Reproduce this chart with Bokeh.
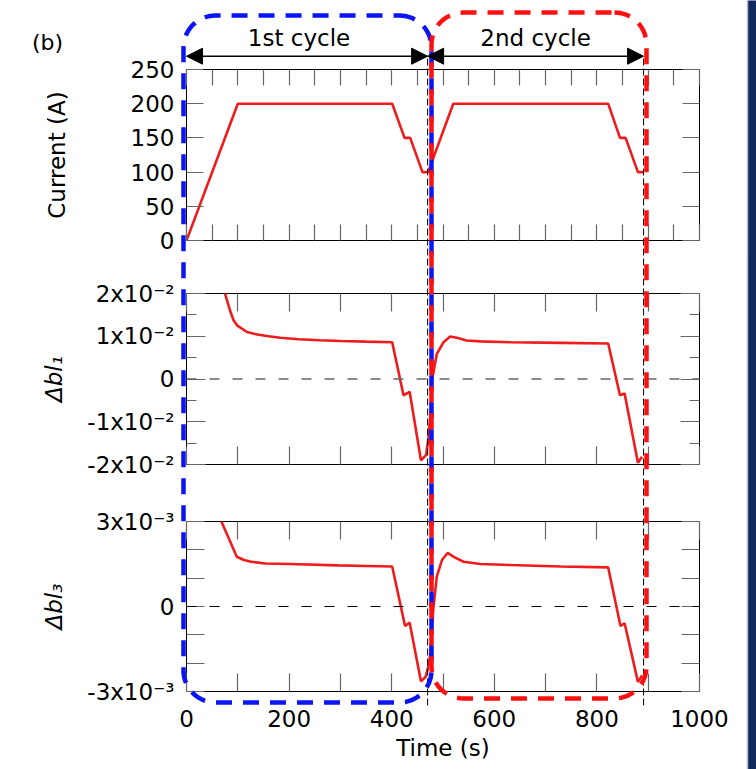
import math
from bokeh.plotting import figure
from bokeh.layouts import column
from bokeh.core.properties import value
from bokeh.models import (Range1d, LinearAxis, FixedTicker, Span, Arrow, NormalHead,
                          CustomJSTickFormatter)
from bokeh.embed import file_html
from bokeh.resources import INLINE

# ---------------- data ----------------
time_current = [0, 100, 401, 425, 436, 460, 471, 520, 822, 845, 856, 880, 891]
current = [0, 200, 200, 150, 150, 100, 100, 200, 200, 150, 150, 100, 100]

time_bl1 = [60, 75, 86, 92, 99, 118, 138, 160, 183, 219, 260, 300, 350, 401,
            423, 435, 457, 467, 472, 475.6, 478.6, 488, 501, 514, 527, 546, 573, 632, 729, 822,
            845, 854, 880, 888]
bl1 = [0.0260, 0.0200, 0.0156, 0.0137, 0.0125, 0.0110, 0.0104, 0.0100, 0.00965, 0.0093, 0.00905, 0.0089, 0.00875, 0.0086,
       -0.0038, -0.0030, -0.0190, -0.0178, -0.0135, -0.0081, -0.0003, 0.0059, 0.0086, 0.00995, 0.00965, 0.0090, 0.0088, 0.0086, 0.00845, 0.0083,
       -0.0038, -0.0034, -0.0196, -0.0182]

time_bl3 = [60, 68, 84, 98, 112, 126, 154, 201, 295, 350, 401,
            426, 435, 457, 466,
            472, 475, 481, 488, 498, 509, 521, 540, 573, 632, 729, 822,
            846, 854, 880, 888]
bl3 = [0.0036, 0.0030, 0.00234, 0.001755, 0.00164, 0.00158, 0.00152, 0.00150, 0.00145, 0.00143, 0.00141,
       -0.00069, -0.00057, -0.00264, -0.00249,
       -0.00208, -0.00173, -0.00010, 0.00106, 0.00164, 0.00189, 0.00175, 0.00158, 0.00150, 0.001465, 0.00141, 0.00138,
       -0.00069, -0.00059, -0.00266, -0.00243]

cycle_edges = [0, 470, 891]
cycle_names = ["1st cycle", "2nd cycle"]

x_ticks_50 = list(range(0, 1001, 50))
x_ticks_100 = list(range(0, 1001, 100))
x_ticks_200 = list(range(0, 1001, 200))
x_minor_100 = list(range(100, 1000, 200))

y1_ticks = [0, 50, 100, 150, 200, 250]
y2_ticks = [-0.02, -0.01, 0, 0.01, 0.02]
y2_minor = [-0.015, -0.005, 0.005, 0.015]
y2_labels = {0.02: "2x10⁻²", 0.01: "1x10⁻²", 0: "0", -0.01: "-1x10⁻²", -0.02: "-2x10⁻²"}
y3_ticks = [-0.003, -0.002, -0.001, 0, 0.001, 0.002, 0.003]
y3_labels = {0.003: "3x10⁻³", 0.002: "", 0.001: "", 0: "0", -0.001: "", -0.002: "", -0.003: "-3x10⁻³"}

# ---------------- style ----------------
FONT = "DejaVu Sans"
TICK_FS = "23px"
TITLE_FS = "23px"
TICK_COLOR = "#666666"
CURVE_COLOR = "#ee1c1c"
BLUE = "#0a14f5"
RED = "#ff1010"

W, H = 756, 769
# canvas bands: (height, top border, bottom border)
bands = [(266, 69, 26), (225, 27, 27), (278, 30, 78)]
FRAME_LEFT, FRAME_RIGHT = 186, 699


def rounded_rect(x0, y0, x1, y1, r, n=14):
    xs, ys = [], []
    corners = [(x1 - r, y0 + r, -90, 0), (x1 - r, y1 - r, 0, 90),
               (x0 + r, y1 - r, 90, 180), (x0 + r, y0 + r, 180, 270)]
    for cx, cy, a0, a1 in corners:
        for k in range(n + 1):
            a = math.radians(a0 + (a1 - a0) * k / n)
            xs.append(cx + r * math.cos(a))
            ys.append(cy + r * math.sin(a))
    return xs, ys


def make_fig(i, y_range):
    h, top, bottom = bands[i]
    p = figure(width=W, height=h, x_range=Range1d(0, 1000), y_range=y_range,
               x_axis_location=None, y_axis_location=None,
               output_backend="svg", toolbar_location=None,
               min_border_left=FRAME_LEFT, min_border_right=W - FRAME_RIGHT,
               min_border_top=top, min_border_bottom=bottom,
               background_fill_color="white", border_fill_color="white",
               outline_line_color="black", outline_line_width=1)
    p.grid.visible = False
    return p


def axis(ticks, tick_in, minor=None, minor_in=0, labels=False, overrides=None, **kw):
    ax = LinearAxis(ticker=FixedTicker(ticks=ticks, minor_ticks=minor or []),
                    axis_line_color=None,
                    major_tick_in=tick_in, major_tick_out=0,
                    minor_tick_in=minor_in, minor_tick_out=0,
                    major_tick_line_color=TICK_COLOR, minor_tick_line_color=TICK_COLOR,
                    major_tick_line_width=1.2, minor_tick_line_width=1.2,
                    major_label_text_font=FONT, major_label_text_font_size=TICK_FS,
                    major_label_text_color="black",
                    axis_label_text_font=FONT, axis_label_text_font_size=TITLE_FS,
                    axis_label_text_color="black", **kw)
    if not labels:
        ax.formatter = CustomJSTickFormatter(code="return ''")
    if overrides:
        ax.major_label_overrides = overrides
    return ax


# ---------------- panel 1: current ----------------
p1 = make_fig(0, Range1d(0, 250))
p1.add_layout(axis(y1_ticks, 17, labels=True, major_label_standoff=12,
                   axis_label="Current (A)", axis_label_standoff=58,
                   axis_label_text_font_style="normal"), "left")
p1.add_layout(axis(y1_ticks, 17), "right")
p1.add_layout(axis(x_ticks_50, 16), "above")
p1.add_layout(axis(x_ticks_50, 16), "below")
p1.line(time_current, current, line_color=CURVE_COLOR, line_width=2.6)

# ---------------- panel 2: Δbl1 ----------------
p2 = make_fig(1, Range1d(-0.02, 0.02))
p2.add_layout(axis(y2_ticks, 19, minor=y2_minor, minor_in=10, labels=True,
                   overrides=y2_labels, major_label_standoff=12,
                   axis_label="Δbl₁", axis_label_standoff=17,
                   axis_label_text_font_style="italic"), "left")
p2.add_layout(axis(y2_ticks, 19, minor=y2_minor, minor_in=10), "right")
p2.add_layout(axis(x_ticks_100, 18), "above")
p2.add_layout(axis(x_ticks_100, 18), "below")
p2.add_layout(Span(location=0, dimension="width", line_color="#666666",
                   line_width=1.6, line_dash="10 13"))
p2.line(time_bl1, bl1, line_color=CURVE_COLOR, line_width=2.6)

# ---------------- panel 3: Δbl3 ----------------
p3 = make_fig(2, Range1d(-0.003, 0.003))
p3.add_layout(axis(y3_ticks, 18, labels=True, overrides=y3_labels,
                   major_label_standoff=12,
                   axis_label="Δbl₃", axis_label_standoff=17,
                   axis_label_text_font_style="italic"), "left")
p3.add_layout(axis(y3_ticks, 18), "right")
p3.add_layout(axis(x_ticks_100, 18), "above")
p3.add_layout(axis(x_ticks_200, 18, minor=x_minor_100, minor_in=18, labels=True,
                   major_label_standoff=18, axis_label="Time (s)",
                   axis_label_standoff=5, axis_label_text_font_style="normal"), "below")
p3.add_layout(Span(location=0, dimension="width", line_color="black",
                   line_width=1.2, line_dash="10 13"))
p3.line(time_bl3, bl3, line_color=CURVE_COLOR, line_width=2.6)

panels = column(p1, p2, p3, spacing=0)

# ---------------- transparent overlay (cycle boxes, arrows, labels) ----------------
scale = (FRAME_RIGHT - FRAME_LEFT) / 1000.0
ov = figure(width=W, height=H,
            x_range=Range1d(-FRAME_LEFT / scale, (W - FRAME_LEFT) / scale),
            y_range=Range1d(H, 0),
            x_axis_location=None, y_axis_location=None,
            output_backend="svg", toolbar_location=None,
            min_border=0, min_border_left=0, min_border_right=0,
            min_border_top=0, min_border_bottom=0,
            background_fill_color=None, border_fill_color=None,
            outline_line_color=None)
ov.grid.visible = False
ov.extra_x_ranges = {"px": Range1d(0, W)}
ov.styles = {"position": "absolute", "top": "0px", "left": "0px", "z-index": "10"}

# dark slide edge on the right
ov.quad(left=[747], right=[W + 40], top=[-10], bottom=[H + 10], x_range_name="px",
        fill_color="#12295e", line_color="#b8bccb", line_width=1.5)

# cycle boundaries (thin black dashed)
ov.segment(x0=cycle_edges[1:], y0=[58, 58], x1=cycle_edges[1:], y1=[707, 707],
           line_color="black", line_width=1, line_dash="7 3")

# rounded dashed boxes
bx, by = rounded_rect(183, 15, 431, 702, 32)
ov.patch(bx, by, x_range_name="px", fill_color=None, line_color=BLUE,
         line_width=4.5, line_dash="16 11")
rx, ry = rounded_rect(431, 12, 646, 698, 32)
ov.patch(rx, ry, x_range_name="px", fill_color=None, line_color=RED,
         line_width=4.5, line_dash="16 11")

# double-headed arrows and cycle labels
for k, name in enumerate(cycle_names):
    a, b = cycle_edges[k], cycle_edges[k + 1]
    ov.add_layout(Arrow(x_start=a, x_end=b, y_start=55.7, y_end=55.7,
                        start=NormalHead(size=16, fill_color="black", line_color="black"),
                        end=NormalHead(size=16, fill_color="black", line_color="black"),
                        line_color="black", line_width=1.5))
ov.text(x=[(cycle_edges[k] + cycle_edges[k + 1]) / 2 for k in range(2)], y=[37, 37],
        text=cycle_names, x_offset=[-8, 0], text_align="center", text_baseline="middle",
        text_font=value(FONT), text_font_size="23px", text_color="black")
ov.text(x=[47], y=[42], text=["(b)"], x_range_name="px", text_align="center",
        text_baseline="middle", text_font=value(FONT), text_font_size="22px",
        text_color="black")

open("out.html", "w").write(file_html([panels, ov], INLINE))
